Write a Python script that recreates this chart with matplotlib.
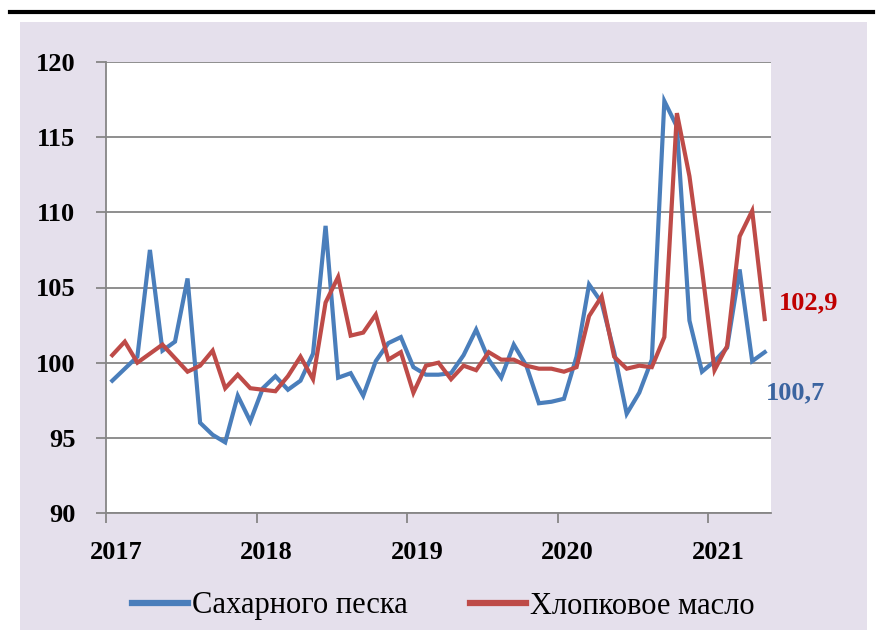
import matplotlib
matplotlib.use("Agg")
import matplotlib.pyplot as plt
from matplotlib.patches import Rectangle
from matplotlib.lines import Line2D

years = ["2017", "2018", "2019", "2020", "2021"]
sugar = [98.8, 99.6, 100.4, 107.5, 100.8, 101.4, 105.6, 96.0, 95.2, 94.7, 97.8, 96.1,
         98.3, 99.1, 98.2, 98.8, 100.6, 109.1, 99.0, 99.3, 97.8, 100.1, 101.3, 101.7,
         99.7, 99.2, 99.2, 99.3, 100.5, 102.2, 100.2, 99.0, 101.2, 99.8, 97.3, 97.4,
         97.6, 100.4, 105.2, 104.0, 100.7, 96.6, 98.0, 100.2, 117.4, 115.7, 102.8, 99.4,
         100.1, 101.0, 106.2, 100.1, 100.7]
cotton = [100.5, 101.4, 100.0, 100.6, 101.2, 100.3, 99.4, 99.8, 100.8, 98.3, 99.2, 98.3,
          98.2, 98.1, 99.1, 100.4, 98.9, 104.0, 105.7, 101.8, 102.0, 103.2, 100.2, 100.7,
          98.0, 99.8, 100.0, 98.9, 99.8, 99.5, 100.7, 100.2, 100.2, 99.8, 99.6, 99.6,
          99.4, 99.7, 103.1, 104.4, 100.4, 99.6, 99.8, 99.7, 101.7, 116.6, 112.4, 106.2,
          99.5, 101.1, 108.4, 110.1, 102.9]
series_names = ["Сахарного песка", "Хлопковое масло"]
end_labels = ["100,7", "102,9"]

BLUE = "#4A7EBB"
RED = "#BE4B48"
GRID = "#868686"
BG = "#E5E0EC"

plt.rcParams["font.family"] = ["Liberation Serif", "DejaVu Serif"]

fig = plt.figure(figsize=(8.81, 6.3), dpi=100)
fig.patch.set_facecolor("white")
W, H = 881, 630
fig.add_artist(Rectangle((20 / W, 0), (867 - 20) / W, (630 - 22) / H,
                         transform=fig.transFigure, facecolor=BG, edgecolor="none", zorder=0))
fig.add_artist(Line2D([10 / W, 873 / W], [1 - 12 / H, 1 - 12 / H], transform=fig.transFigure,
                      color="black", linewidth=3, zorder=1))

ax = fig.add_axes([106 / W, (630 - 513) / H, (771 - 106) / W, (513 - 62) / H])
ax.set_facecolor("white")
ax.set_zorder(2)

x = [i + 0.5 for i in range(len(sugar))]
ax.plot(x, sugar, color=BLUE, linewidth=3, solid_joinstyle="miter", zorder=3)
ax.plot(x, cotton, color=RED, linewidth=3, solid_joinstyle="miter", zorder=4)

FS = 19
ax.set_xlim(0, 53)
ax.set_ylim(90, 120)
ax.set_yticks(range(90, 121, 5))
ax.set_yticklabels([str(v) for v in range(90, 121, 5)], fontsize=FS, fontweight="bold")
ax.yaxis.grid(True, color=GRID, linewidth=1.3)
ax.set_axisbelow(True)

ax.set_xticks([0, 12, 24, 36, 48])
ax.set_xticklabels([])
ax.set_xticks([0.8, 12.8, 24.8, 36.8, 48.8], minor=True)
ax.set_xticklabels(years, minor=True, fontsize=FS, fontweight="bold")
ax.tick_params(axis="x", which="minor", length=0, pad=20)
ax.tick_params(axis="x", which="major", length=7, width=1.3, color=GRID, direction="out")
ax.tick_params(axis="y", length=7, width=1.3, color=GRID, direction="out", pad=15)

for s in ["top", "right"]:
    ax.spines[s].set_visible(False)
for s in ["left", "bottom"]:
    ax.spines[s].set_color(GRID)
    ax.spines[s].set_linewidth(1.3)

ax.annotate(end_labels[1], xy=(x[-1], cotton[-1]), xytext=(10, 11.5), textcoords="offset points",
            color="#C00000", fontsize=FS, fontweight="bold", va="center", ha="left",
            annotation_clip=False)
ax.annotate(end_labels[0], xy=(x[-1], sugar[-1]), xytext=(0.5, -29), textcoords="offset points",
            color="#3B64A0", fontsize=FS, fontweight="bold", va="center", ha="left",
            annotation_clip=False)

handles = [Line2D([], [], color=BLUE, linewidth=4.5), Line2D([], [], color=RED, linewidth=4.5)]
leg = fig.legend(handles, series_names, loc="center", bbox_to_anchor=(443.5 / W, 1 - 606 / H),
                 ncol=2, frameon=False, prop={"size": 22},
                 handlelength=1.83, handletextpad=0.13, columnspacing=2.03,
                 borderpad=0, borderaxespad=0)

fig.savefig("out.png", dpi=100)
